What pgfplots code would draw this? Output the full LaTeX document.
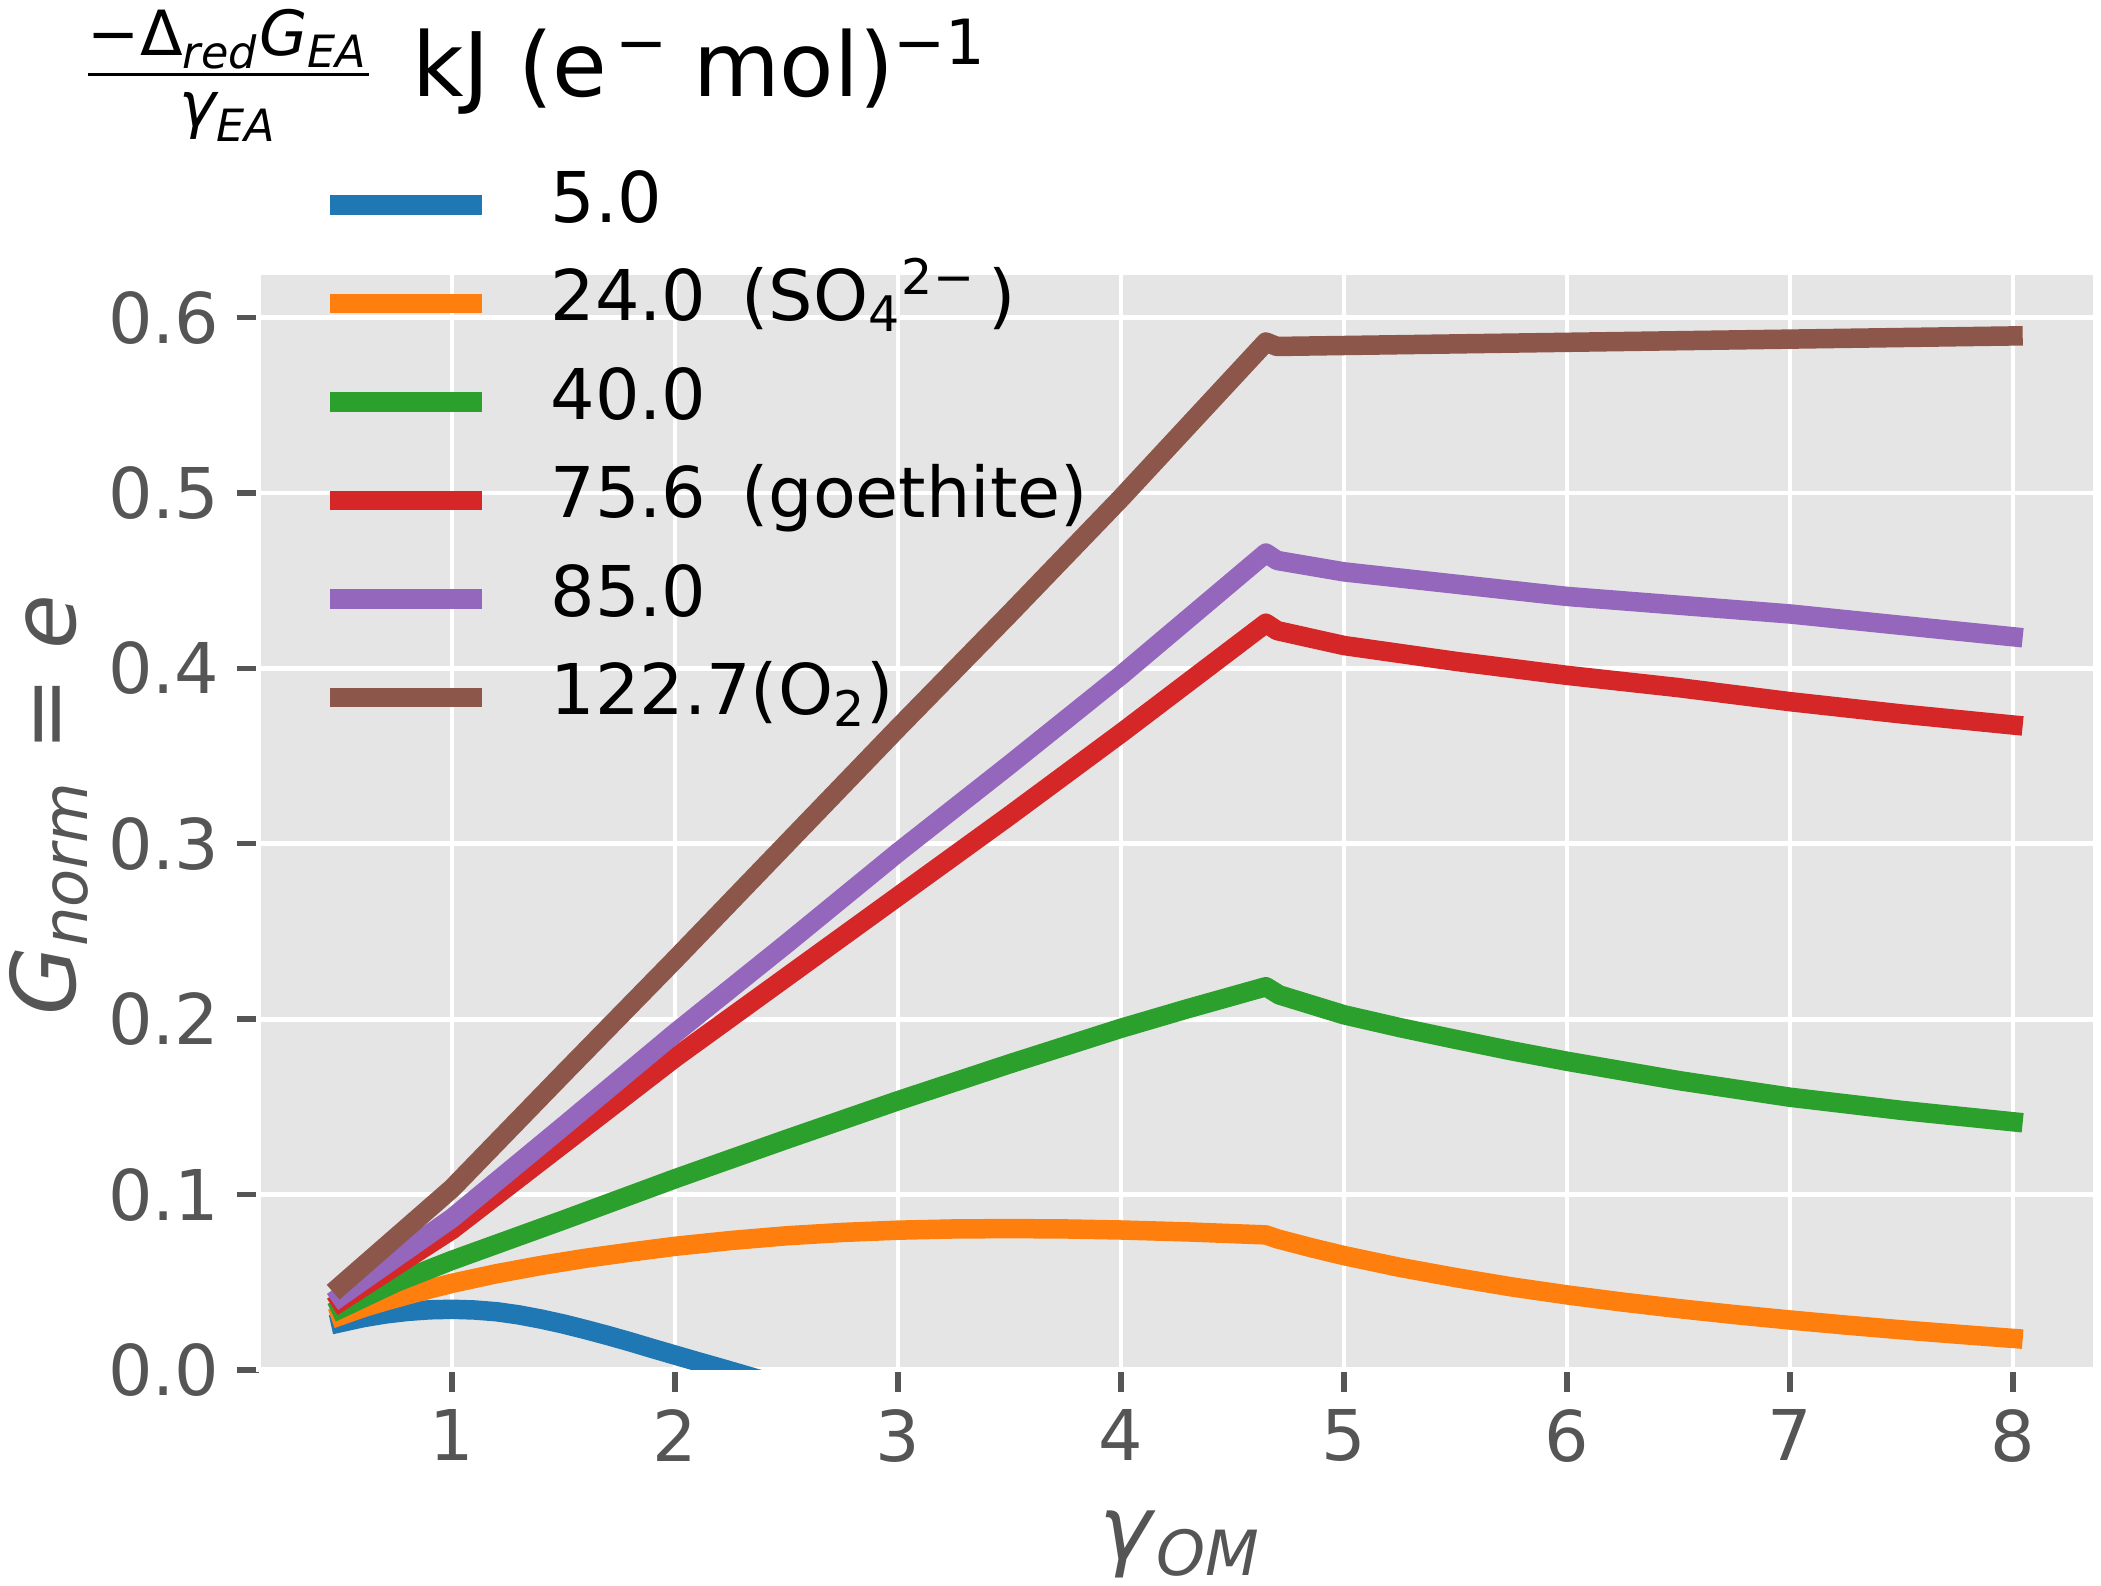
\documentclass[border=0pt]{standalone}
\usepackage{fontspec}
\setmainfont{DejaVu Sans}
\usepackage{amsmath}
\usepackage{pgfplots}
\pgfplotsset{compat=1.18}
\definecolor{bggray}{HTML}{E5E5E5}
\definecolor{tickgray}{HTML}{555555}
\definecolor{cA}{HTML}{1F77B4}
\definecolor{cB}{HTML}{FF7F0E}
\definecolor{cC}{HTML}{2CA02C}
\definecolor{cD}{HTML}{D62728}
\definecolor{cE}{HTML}{9467BD}
\definecolor{cF}{HTML}{8C564B}
\newcommand\bigfont{\fontsize{17.8}{21}\selectfont}
\newcommand\smallfont{\fontsize{14}{16.8}\selectfont}
\begin{document}
\begin{tikzpicture}
\path[use as bounding box] (-51.8pt,-43.2pt) rectangle (368.4pt,274pt);
\begin{axis}[
  at={(0pt,0pt)}, anchor=south west,
  scale only axis, width=367.2pt, height=219.4pt,
  xmin=0.1345, xmax=8.368, ymin=0, ymax=0.6254,
  axis background/.style={fill=bggray},
  axis line style={white, line width=1pt},
  grid=major,
  grid style={white, line width=0.95pt},
  xtick={1,2,3,4,5,6,7,8},
  ytick={0,0.1,0.2,0.3,0.4,0.5,0.6},
  xtick pos=bottom, ytick pos=left,
  tick align=outside,
  major tick length=4.4pt,
  tick style={color=tickgray, line width=1.1pt},
  /pgf/number format/assume math mode=true,
  ticklabel style={font=\smallfont, text=tickgray},
  yticklabel style={/pgf/number format/.cd, fixed, fixed zerofill, precision=1},
  every axis y label/.style={at={(axis description cs:-0.1002,0.515)}, rotate=90, anchor=base, font=\bigfont, text=tickgray},
  every axis x label/.style={at={(axis description cs:0.502,-0.1724)}, anchor=base, font=\bigfont, text=tickgray},
  ylabel={\textit{G}$_{\text{\itshape norm}}$ = \textit{e}},
  xlabel={\textit{γ}$_{\text{\itshape OM}}$},
  every axis plot/.append style={line width=3.9pt, line cap=rect, line join=round},
  legend image code/.code={\draw[#1, line cap=butt] (0pt,0pt) -- (30.4pt,0pt);},
  legend cell align=left,
  legend style={draw=none, fill=none, inner sep=0pt, outer sep=0pt,
    at={(0.03337,1.0939)}, anchor=north west,
    font=\smallfont, text=black, row sep=5.7pt, column sep=11.75pt,
    nodes={inner sep=0pt, text height=10.5pt, text depth=3.5pt}},
]
\addplot[cA] coordinates {(0.5,0.027)(0.6,0.0298)(0.7,0.0319)(0.8,0.0334)(0.9,0.0343)(1.0,0.0346)(1.1,0.0342)(1.2,0.0332)(1.3,0.0314)(1.4,0.0290)(1.5,0.0262)(1.6,0.0230)(1.7,0.0196)(1.8,0.0160)(1.9,0.0122)(2.0,0.0085)(2.1,0.0048)(2.2,0.0012)(2.3,-0.0025)(2.4,-0.0062)(2.5,-0.010)(2.7,-0.018)};
\addlegendentry{5.0}
\addplot[cB] coordinates {(0.5,0.031)(0.6,0.0355)(0.7,0.0393)(0.8,0.0428)(0.9,0.0462)(1.0,0.0494)(1.2,0.0549)(1.4,0.0596)(1.6,0.0637)(1.8,0.0672)(2.0,0.0705)(2.25,0.0738)(2.5,0.0765)(2.75,0.0784)(3,0.0797)(3.25,0.0804)(3.5,0.0806)(3.75,0.0804)(4,0.0798)(4.3,0.0787)(4.65,0.0770)(4.70,0.0748)(4.85,0.0698)(5,0.0652)(5.25,0.0585)(5.5,0.0527)(5.75,0.0474)(6,0.0428)(6.25,0.0387)(6.5,0.0350)(6.75,0.0316)(7,0.0285)(7.25,0.0256)(7.5,0.0229)(7.75,0.0204)(8,0.0180)};
\addlegendentry{24.0\hspace{0.5em}(SO$_{\text{4}}$$^{\text{2−}}$\,)}
\addplot[cC] coordinates {(0.5,0.035)(0.75,0.050)(1,0.0625)(1.5,0.0855)(2,0.109)(2.5,0.1315)(3,0.1535)(3.5,0.1745)(4,0.1948)(4.3,0.2060)(4.65,0.2185)(4.71,0.2138)(5,0.2025)(5.25,0.1952)(5.5,0.1885)(5.75,0.1820)(6,0.1760)(6.5,0.1650)(7,0.1555)(7.5,0.1480)(8,0.1415)};
\addlegendentry{40.0}
\addplot[cD] coordinates {(0.5,0.039)(1,0.080)(1.5,0.129)(2,0.178)(2.5,0.224)(3,0.270)(3.5,0.316)(4,0.363)(4.65,0.4257)(4.70,0.4215)(5,0.413)(5.5,0.404)(6,0.396)(6.5,0.389)(7,0.381)(7.5,0.374)(8,0.3677)};
\addlegendentry{75.6\hspace{0.5em}(goethite)}
\addplot[cE] coordinates {(0.5,0.042)(1,0.0865)(1.5,0.139)(2,0.192)(2.5,0.243)(3,0.295)(3.5,0.345)(4,0.396)(4.65,0.4657)(4.70,0.4615)(5,0.455)(5.5,0.448)(6,0.441)(6.5,0.436)(7,0.431)(7.5,0.4245)(8,0.418)};
\addlegendentry{85.0}
\addplot[cF] coordinates {(0.5,0.048)(1,0.1035)(1.5,0.169)(2,0.234)(2.5,0.300)(3,0.366)(3.5,0.431)(4,0.497)(4.65,0.586)(4.70,0.5835)(8,0.5895)};
\addlegendentry{122.7(O$_{\text{2}}$)}
\end{axis}
\node[anchor=base west, inner sep=0pt, font=\bigfont, text=black] at (-35.6pt,254.75pt)
  {$\frac{\text{−Δ}_{\text{\itshape red}}\text{\itshape G}_{\text{\itshape EA}}\rule[-2.6pt]{0pt}{1pt}}{\text{\itshape γ}_{\text{\itshape EA}}}$\hspace{7.5pt}kJ (e\hspace{1.5pt}$^{\text{−}}$\hspace{-1pt} mol)$^{\text{−1}}$};
\end{tikzpicture}
\end{document}
